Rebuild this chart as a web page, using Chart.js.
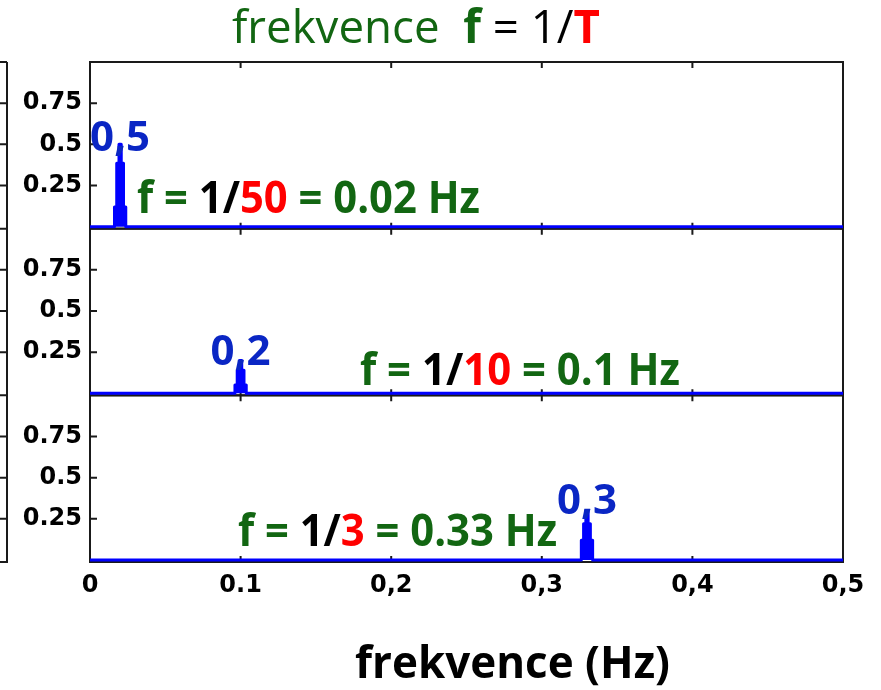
<!DOCTYPE html>
<html lang="cs">
<head>
<meta charset="UTF-8">
<title>frekvence f = 1/T</title>
<script src="https://cdn.jsdelivr.net/npm/chart.js@4.4.1/dist/chart.umd.min.js"></script>
<style>
  html, body { margin: 0; padding: 0; background: #fff; }
  #wrap { width: 881px; height: 690px; }
</style>
</head>
<body>
<div id="wrap"><canvas id="spec" width="881" height="690"></canvas></div>
<script>
// spectra (frequency in Hz, amplitude)
const freq1 = [0, 0.0155, 0.017, 0.0185, 0.02, 0.0215, 0.023, 0.0245, 0.5];
const amp1  = [0, 0, 0.12, 0.385, 0.5, 0.385, 0.12, 0, 0];
const freq2 = [0, 0.0955, 0.097, 0.0985, 0.1, 0.1015, 0.103, 0.1045, 0.5];
const amp2  = [0, 0, 0.05, 0.14, 0.2, 0.14, 0.05, 0, 0];
const freq3 = [0, 0.3255, 0.327, 0.3285, 0.33, 0.3315, 0.333, 0.3345, 0.5];
const amp3  = [0, 0, 0.12, 0.22, 0.3, 0.22, 0.12, 0, 0];

const periods = ['50', '10', '3'];
const freqText = ['0.02', '0.1', '0.33'];
const peakText = ['0,5', '0,2', '0,3'];

const xTickValues = [0, 0.1, 0.2, 0.3, 0.4, 0.5];
const xTickLabels = ['0', '0.1', '0,2', '0,3', '0,4', '0,5'];
const yTickValues = [0.25, 0.5, 0.75];
const yTickLabels = ['0.25', '0.5', '0.75'];

const GREEN = '#126612', RED = '#ff0000', BLUE = '#0000ff', LBLUE = '#0a26c4';
const tickFont = { family: 'DejaVu Sans', size: 24, weight: 'bold' };

function pts(xs, ys) { return xs.map((x, i) => ({ x: x, y: ys[i] })); }

function spectrum(xs, ys, axis) {
  return {
    data: pts(xs, ys), yAxisID: axis,
    borderColor: BLUE, backgroundColor: BLUE, borderWidth: 3,
    stepped: 'middle', fill: 'origin', pointRadius: 0,
    borderJoinStyle: 'round', borderCapStyle: 'round'
  };
}

function yScale() {
  return {
    type: 'linear', position: 'left', stack: 'panels', stackWeight: 1,
    min: -0.012, max: 1,
    grid: { display: false, drawTicks: false }, border: { display: false },
    afterBuildTicks: s => { s.ticks = yTickValues.map(v => ({ value: v })); },
    afterFit: s => { s.width = 90; },
    ticks: {
      font: tickFont, color: '#000', padding: 8,
      callback: (v) => { const i = yTickValues.indexOf(v); return i < 0 ? '' : yTickLabels[i]; }
    }
  };
}

// rich text squeezed to a given width
function drawRich(ctx, parts, x, y, width) {
  ctx.save();
  let total = 0;
  parts.forEach(p => { ctx.font = p[1]; total += ctx.measureText(p[0]).width; });
  ctx.translate(x, y);
  ctx.scale(width / total, 1);
  ctx.textAlign = 'left';
  ctx.textBaseline = 'alphabetic';
  let cx = 0;
  parts.forEach(p => {
    ctx.font = p[1]; ctx.fillStyle = p[2];
    ctx.fillText(p[0], cx, 0);
    cx += ctx.measureText(p[0]).width;
  });
  ctx.restore();
}

const decor = {
  id: 'decor',
  beforeDatasetsDraw(chart) {
    const ctx = chart.ctx, a = chart.chartArea, xs = chart.scales.x;
    ctx.save();
    ctx.strokeStyle = '#1a1a1a';
    ctx.lineWidth = 2;
    ['yTop', 'yMid', 'yBot'].forEach(id => {
      const s = chart.scales[id];
      ctx.strokeRect(a.left, s.top, a.right - a.left, s.bottom - s.top);
      ctx.beginPath();
      yTickValues.forEach(v => {
        const py = s.getPixelForValue(v);
        ctx.moveTo(a.left, py); ctx.lineTo(a.left + 7, py);
        // neighbouring figure's frame on the far left
        ctx.moveTo(0, py); ctx.lineTo(7, py);
      });
      xTickValues.slice(1, -1).forEach(v => {
        const px = xs.getPixelForValue(v);
        ctx.moveTo(px, s.bottom); ctx.lineTo(px, s.bottom - 6);
        ctx.moveTo(px, s.top); ctx.lineTo(px, s.top + 6);
      });
      ctx.moveTo(0, s.bottom); ctx.lineTo(7, s.bottom);
      ctx.stroke();
    });
    ctx.beginPath();
    ctx.moveTo(7, a.top); ctx.lineTo(7, a.bottom + 1);
    ctx.moveTo(0, a.top); ctx.lineTo(7, a.top);
    ctx.stroke();
    ctx.restore();
  },
  afterDraw(chart) {
    const ctx = chart.ctx, xs = chart.scales.x;
    const ids = ['yTop', 'yMid', 'yBot'];
    const peaks = [0.02, 0.1, 0.33];
    const peakBase = [0.46, 0.17, 0.28];
    const formX = [137, 360, 238];
    const formW = [343, 320, 319];
    const formBase = [0.085, 0.05, 0.085];
    const B = 'bold 44px "Open Sans"';
    ids.forEach((id, i) => {
      const s = chart.scales[id];
      drawRich(ctx, [[peakText[i], 'bold 41px "Open Sans"', LBLUE]],
        xs.getPixelForValue(peaks[i]) - 30, s.getPixelForValue(peakBase[i]), 60);
      drawRich(ctx, [
        ['f = ', B, GREEN], ['1/', B, '#000'], [periods[i], B, RED],
        [' = ' + freqText[i] + ' Hz', B, GREEN]
      ], formX[i], s.getPixelForValue(formBase[i]), formW[i]);
    });
    // title
    const N = '46px "Open Sans"', NB = 'bold 46px "Open Sans"';
    drawRich(ctx, [
      ['frekvence  ', N, GREEN], ['f', NB, GREEN], [' = 1/', N, '#000'], ['T', NB, RED]
    ], 232, 43, 368);
    // x axis title
    drawRich(ctx, [['frekvence (Hz)', 'bold 45px "Open Sans"', '#000']], 355, 678, 315);
  }
};

new Chart(document.getElementById('spec'), {
  type: 'line',
  data: {
    datasets: [
      spectrum(freq1, amp1, 'yTop'),
      spectrum(freq2, amp2, 'yMid'),
      spectrum(freq3, amp3, 'yBot')
    ]
  },
  options: {
    responsive: false,
    animation: false,
    events: [],
    layout: { padding: { top: 62, right: 38, left: 0, bottom: 0 } },
    plugins: { legend: { display: false }, tooltip: { enabled: false } },
    scales: {
      x: {
        type: 'linear', position: 'bottom', min: 0, max: 0.5,
        grid: { display: false, drawTicks: false }, border: { display: false },
        afterBuildTicks: s => { s.ticks = xTickValues.map(v => ({ value: v })); },
        afterFit: s => { s.height = 128; },
        ticks: {
          font: tickFont, color: '#000', padding: 9, autoSkip: false, maxRotation: 0,
          callback: (v) => { const i = xTickValues.indexOf(v); return i < 0 ? '' : xTickLabels[i]; }
        }
      },
      yBot: yScale(),
      yMid: yScale(),
      yTop: yScale()
    }
  },
  plugins: [decor]
});
</script>
</body>
</html>
